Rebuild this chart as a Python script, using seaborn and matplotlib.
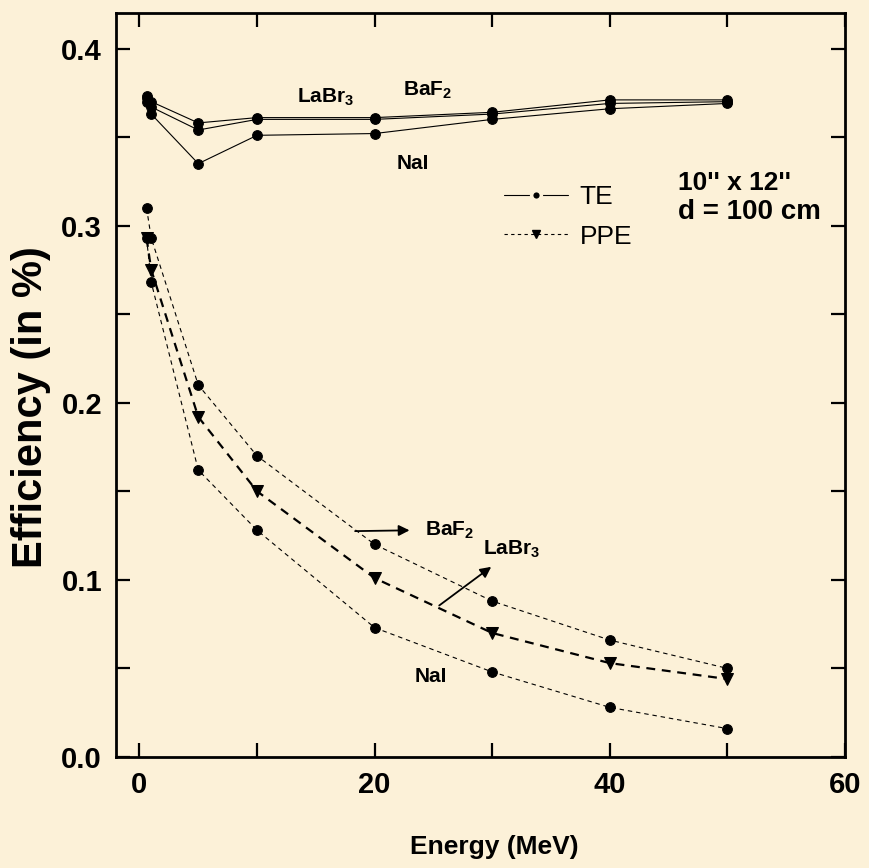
import matplotlib
matplotlib.use("Agg")
import matplotlib.pyplot as plt
import seaborn as sns
from matplotlib.lines import Line2D

# Photon energies (MeV)
energy = [0.6, 1, 5, 10, 20, 30, 40, 50]

# Total efficiency (TE, %)
te_labr3 = [0.373, 0.370, 0.358, 0.361, 0.361, 0.364, 0.371, 0.371]
te_baf2 = [0.372, 0.367, 0.354, 0.360, 0.360, 0.363, 0.369, 0.370]
te_nai = [0.370, 0.363, 0.335, 0.351, 0.352, 0.360, 0.366, 0.369]

# Photopeak efficiency (PPE, %)
ppe_baf2 = [0.310, 0.293, 0.210, 0.170, 0.120, 0.088, 0.066, 0.050]
ppe_labr3 = [0.293, 0.275, 0.192, 0.150, 0.101, 0.070, 0.053, 0.044]
ppe_nai = [0.293, 0.268, 0.162, 0.128, 0.073, 0.048, 0.028, 0.016]

x_ticks = [0, 20, 40, 60]
y_ticks = [0.0, 0.1, 0.2, 0.3, 0.4]

sns.set_style("ticks")
plt.rcParams["font.family"] = ["Liberation Sans Narrow", "Liberation Sans",
                               "DejaVu Sans"]
plt.rcParams["mathtext.default"] = "regular"
for key in ("text.color", "axes.labelcolor", "xtick.color", "ytick.color",
            "axes.edgecolor"):
    plt.rcParams[key] = "black"

BG = "#FCF1D8"
fig = plt.figure(figsize=(8.7, 8.68), dpi=100, facecolor=BG)
ax = fig.add_axes([0.1333, 0.1279, 0.838, 0.857])
ax.set_facecolor(BG)

thin = dict(color="black", lw=0.8)
for ys in (te_labr3, te_baf2, te_nai):
    sns.lineplot(x=energy, y=ys, ax=ax, marker="o", markersize=7,
                 markeredgecolor="black", linestyle="-", **thin)

for ys in (ppe_baf2, ppe_nai):
    sns.lineplot(x=energy, y=ys, ax=ax, marker="o", markersize=7,
                 markeredgecolor="black", linestyle=(0, (4, 3.5)), **thin)
sns.lineplot(x=energy, y=ppe_labr3, ax=ax, marker="v", markersize=8,
             markeredgecolor="black", color="black", lw=1.6,
             linestyle=(0, (4, 3)))

ax.set_xlim(-2, 60)
ax.set_ylim(0, 0.42)
ax.set_xticks(x_ticks)
ax.set_xticks(range(0, 60, 10), minor=True)
ax.set_yticks(y_ticks)
ax.set_yticks([0.05, 0.15, 0.25, 0.35], minor=True)
ax.set_xticklabels([str(v) for v in x_ticks])
ax.set_yticklabels([f"{v:.1f}" for v in y_ticks])

for s in ax.spines.values():
    s.set_visible(True)
    s.set_linewidth(2.0)
    s.set_color("black")
ax.tick_params(which="both", direction="in", top=True, right=True,
               width=1.6, length=10, color="black")
ax.tick_params(which="major", labelsize=21, pad=10)
for lab in ax.get_xticklabels() + ax.get_yticklabels():
    lab.set_fontweight("bold")

ax.set_xlabel("Energy (MeV)", fontsize=19, fontweight="bold")
ax.set_ylabel("Efficiency (in %)", fontsize=30, fontweight="bold")
ax.xaxis.set_label_coords(0.519, -0.105)
ax.yaxis.set_label_coords(-0.089, 0.47)

lab_kw = dict(fontsize=15, fontweight="bold", va="center", ha="left")
# TE curve labels
ax.text(13.4, 0.3725, "LaBr$_3$", **lab_kw)
ax.text(22.4, 0.3762, "BaF$_2$", **lab_kw)
ax.text(21.9, 0.335, "NaI", **lab_kw)
# PPE curve labels with arrows
ax.text(24.3, 0.128, "BaF$_2$", **lab_kw)
ax.text(29.2, 0.117, "LaBr$_3$", **lab_kw)
ax.text(23.4, 0.0457, "NaI", **lab_kw)
arrow = dict(arrowstyle="-|>", color="black", lw=1.3, mutation_scale=16)
ax.annotate("", xy=(23.2, 0.128), xytext=(18.1, 0.1275), arrowprops=arrow)
ax.annotate("", xy=(30.1, 0.1083), xytext=(25.3, 0.0846), arrowprops=arrow)

ax.text(0.771, 0.7715, "10'' x 12''", transform=ax.transAxes,
        fontsize=19, fontweight="bold", va="center", ha="left")
ax.text(0.771, 0.7325, "d = 100 cm", transform=ax.transAxes,
        fontsize=20, fontweight="bold", va="center", ha="left")

handles = [
    Line2D([], [], color="black", lw=0.8, marker="o", markersize=7,
           markerfacecolor="black", markeredgecolor=BG, markeredgewidth=2.5,
           linestyle="-"),
    Line2D([], [], color="black", lw=0.8, marker="v", markersize=6,
           linestyle=(0, (3, 3))),
]
ax.legend(handles, ["TE", "PPE"], loc="upper left",
          bbox_to_anchor=(0.50, 0.801), frameon=False, fontsize=19,
          handlelength=2.4, handletextpad=0.45, labelspacing=0.6,
          numpoints=1)

fig.savefig("out.png", dpi=100, facecolor=BG)
